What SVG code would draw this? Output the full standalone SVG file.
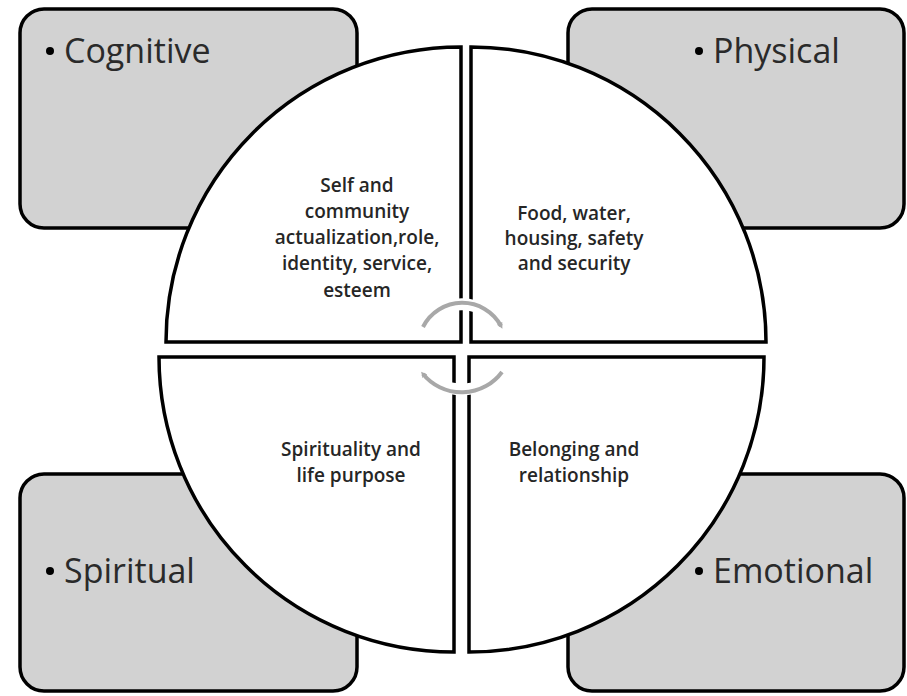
<svg xmlns="http://www.w3.org/2000/svg" width="907" height="696" viewBox="0 0 907 696">
<style>
.box{fill:#d2d2d2;stroke:#000;stroke-width:3.5}
.quad{fill:#fff;stroke:#000;stroke-width:3.5;stroke-linejoin:miter}
.lbl{font-family:"Open Sans","Liberation Sans",sans-serif;font-size:34px;fill:#2a2a2a}
.dot{fill:#000}
.inner{font-family:"Open Sans","Liberation Sans",sans-serif;font-size:19px;font-weight:600;fill:#262626;text-anchor:middle}
.halo{fill:none;stroke:#fff;stroke-width:12}
.arc{fill:none;stroke:#a8a8a8;stroke-width:4}
</style>
<defs>
<marker id="ah" markerWidth="6" markerHeight="6" refX="3" refY="3" orient="auto" markerUnits="userSpaceOnUse">
<path d="M0,0 L6,3 L0,6 Z" fill="#a8a8a8"/>
</marker>
</defs>
<rect width="907" height="696" fill="#fff"/>
<g id="cognitive">
<rect class="box" x="20" y="9" width="337" height="219" rx="24"/>
<circle class="dot" cx="50" cy="51" r="4"/>
<text class="lbl" x="64" y="63">Cognitive</text>
</g>
<g id="physical">
<rect class="box" x="568" y="9" width="336" height="219" rx="24"/>
<circle class="dot" cx="699" cy="51" r="4"/>
<text class="lbl" x="713" y="63">Physical</text>
</g>
<g id="spiritual">
<rect class="box" x="20" y="474" width="337" height="217" rx="24"/>
<circle class="dot" cx="50" cy="571" r="4"/>
<text class="lbl" x="64" y="583">Spiritual</text>
</g>
<g id="emotional">
<rect class="box" x="568" y="474" width="336" height="217" rx="24"/>
<circle class="dot" cx="699" cy="571" r="4"/>
<text class="lbl" x="713" y="583">Emotional</text>
</g>
<g id="q-self">
<path class="quad" d="M461,342 L166,342 A295,295 0 0 1 461,47 Z"/>
<text class="inner"><tspan x="357" y="192">Self and</tspan><tspan x="357" y="218">community</tspan><tspan x="357" y="244">actualization,role,</tspan><tspan x="357" y="270">identity, service,</tspan><tspan x="357" y="297">esteem</tspan></text>
</g>
<g id="q-food">
<path class="quad" d="M471,342 L471,47 A295,295 0 0 1 766,342 Z"/>
<text class="inner"><tspan x="574" y="220">Food, water,</tspan><tspan x="574" y="245">housing, safety</tspan><tspan x="574" y="270">and security</tspan></text>
</g>
<g id="q-spirit">
<path class="quad" d="M454,357 L454,652 A295,295 0 0 1 159,357 Z"/>
<text class="inner"><tspan x="351" y="456">Spirituality and</tspan><tspan x="351" y="482">life purpose</tspan></text>
</g>
<g id="q-belong">
<path class="quad" d="M469,357 L764,357 A295,295 0 0 1 469,652 Z"/>
<text class="inner"><tspan x="574" y="456">Belonging and</tspan><tspan x="574" y="482">relationship</tspan></text>
</g>
<g id="connectors">
<path class="halo" d="M424,326 A44,44 0 0 1 500,326"/>
<path class="halo" d="M500,372 A50,50 0 0 1 424,372"/>
<path class="arc" d="M423,327 A44,44 0 0 1 501,326" marker-end="url(#ah)"/>
<path class="arc" d="M502,372 A50,50 0 0 1 423,374" marker-end="url(#ah)"/>
</g>
</svg>
